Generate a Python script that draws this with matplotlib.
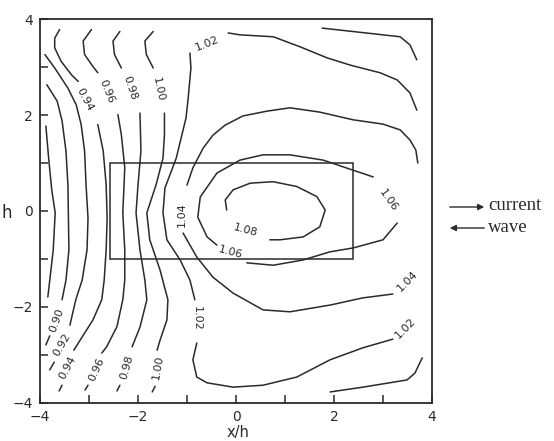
import matplotlib
matplotlib.use("Agg")
import matplotlib.pyplot as plt
from matplotlib.patches import Rectangle

# ---- contour lines (x/h, y/h) ----
# 0.88 (leftmost, unlabeled)
c088_x = [-3.88, -3.82, -3.76, -3.69, -3.73, -3.80, -3.84]
c088_y = [1.77, 1.06, 0.44, -0.04, -0.81, -1.44, -1.79]
# 0.90
c090_x = [-3.86, -3.65, -3.55, -3.47, -3.43, -3.41, -3.47, -3.55]
c090_y = [2.63, 2.29, 1.88, 1.25, 0.54, -0.81, -1.44, -1.85]
c090b_x = [-3.80, -3.88]
c090b_y = [-2.60, -2.79]
# 0.92
c092_x = [-3.90, -3.70, -3.43, -3.26, -3.16, -3.09, -3.06, -3.02, -3.04, -3.14, -3.27, -3.39]
c092_y = [3.26, 2.98, 2.56, 2.21, 1.80, 1.25, 0.54, -0.15, -0.81, -1.44, -1.85, -2.38]
c092b_x = [-3.71, -3.80]
c092b_y = [-3.15, -3.31]
# 0.94
c094a_x = [-3.60, -3.70, -3.70, -3.57, -3.36, -3.22]
c094a_y = [3.78, 3.60, 3.40, 3.12, 2.84, 2.70]
c094b_x = [-2.82, -2.71, -2.65, -2.63, -2.65, -2.69, -2.74, -2.92, -3.18, -3.31]
c094b_y = [1.80, 1.25, 0.55, -0.15, -0.81, -1.44, -1.85, -2.27, -2.69, -2.90]
c094c_x = [-3.55, -3.61]
c094c_y = [-3.63, -3.75]
# 0.96
c096a_x = [-2.95, -3.12, -3.09, -2.92, -2.82]
c096a_y = [3.78, 3.54, 3.26, 3.01, 2.88]
c096b_x = [-2.41, -2.34, -2.27, -2.31, -2.27, -2.27, -2.31, -2.43, -2.64, -2.74]
c096b_y = [2.01, 1.59, 0.90, -0.04, -0.81, -1.44, -1.85, -2.41, -2.83, -2.96]
c096c_x = [-3.02, -3.08]
c096c_y = [-3.63, -3.73]
# 0.98
c098a_x = [-2.37, -2.51, -2.48, -2.34]
c098a_y = [3.74, 3.54, 3.26, 2.98]
c098b_x = [-1.96, -1.94, -2.00, -2.04, -1.96, -1.86, -1.82, -1.96, -2.12]
c098b_y = [2.04, 1.25, 0.54, -0.04, -0.81, -1.44, -1.85, -2.42, -2.83]
c098c_x = [-2.37, -2.43]
c098c_y = [-3.63, -3.75]
# 1.00
c100a_x = [-1.69, -1.86, -1.83, -1.69]
c100a_y = [3.74, 3.54, 3.26, 2.98]
c100b_x = [-1.46, -1.46, -1.49, -1.63, -1.82, -1.76, -1.55, -1.39, -1.41, -1.55, -1.61]
c100b_y = [2.04, 1.59, 1.10, 0.55, -0.04, -0.60, -1.23, -1.85, -2.27, -2.69, -2.90]
c100c_x = [-1.65, -1.71]
c100c_y = [-3.65, -3.77]
c100d_x = [1.76, 2.47, 3.35, 3.55, 3.69]
c100d_y = [3.81, 3.73, 3.63, 3.46, 3.15]
c100e_x = [1.92, 2.59, 3.49, 3.65, 3.80]
c100e_y = [-3.77, -3.67, -3.52, -3.38, -3.06]
# 1.02
c102a_x = [-0.16, 0.08, 0.76, 1.31, 1.86, 2.33, 2.94, 3.29, 3.55, 3.69]
c102a_y = [3.71, 3.67, 3.63, 3.42, 3.19, 3.04, 2.88, 2.73, 2.46, 2.10]
c102b_x = [-0.94, -0.92, -0.98, -1.02, -1.22, -1.45, -1.49, -1.41, -1.14, -0.94, -0.84]
c102b_y = [3.29, 2.98, 2.31, 1.94, 1.10, 0.48, -0.04, -0.60, -1.02, -1.44, -1.85]
c102c_x = [-0.80, -0.88, -0.80, -0.59, -0.06, 0.55, 1.24, 1.92, 2.59, 3.20]
c102c_y = [-2.75, -3.10, -3.46, -3.58, -3.67, -3.63, -3.46, -3.10, -2.85, -2.67]
# 1.04
c104a_x = [-1.00, -0.88, -0.67, -0.47, -0.22, 0.14, 0.63, 1.10, 1.71, 2.39, 3.00, 3.35, 3.55, 3.67, 3.71]
c104a_y = [0.54, 0.90, 1.31, 1.58, 1.79, 1.98, 2.08, 2.15, 2.06, 1.90, 1.81, 1.69, 1.48, 1.27, 1.00]
c104b_x = [-1.08, -0.80, -0.47, -0.06, 0.55, 1.10, 1.92, 2.59, 3.20]
c104b_y = [-0.46, -0.96, -1.38, -1.71, -2.06, -2.10, -1.96, -1.81, -1.73]
# 1.06
c106a_x = [2.80, 2.39, 1.78, 1.10, 0.55, 0.08, -0.39, -0.73, -0.78, -0.59, -0.39]
c106a_y = [0.71, 0.85, 1.06, 1.17, 1.17, 1.06, 0.79, 0.29, -0.13, -0.54, -0.71]
c106b_x = [0.22, 0.76, 1.37, 1.92, 2.39, 3.00, 3.29]
c106b_y = [-1.08, -1.13, -1.02, -0.85, -0.77, -0.60, -0.25]
# 1.08
c108_x = [-0.19, -0.22, -0.06, 0.29, 0.76, 1.24, 1.65, 1.82, 1.71, 1.37, 0.90, 0.69]
c108_y = [0.02, 0.23, 0.44, 0.58, 0.61, 0.51, 0.30, 0.02, -0.33, -0.54, -0.60, -0.60]

# inline labels: text, x, y, rotation
label_text = ["0.94", "0.96", "0.98", "1.00", "1.02",
              "0.90", "0.92", "0.94", "0.96", "0.98", "1.00",
              "1.02", "1.04", "1.06", "1.08", "1.06", "1.04", "1.02"]
label_x = [-3.08, -2.63, -2.17, -1.59, -0.59,
           -3.65, -3.55, -3.43, -2.84, -2.22, -1.59,
           -0.80, -1.10, -0.12, 0.20, 3.10, 3.49, 3.45]
label_y = [2.32, 2.49, 2.56, 2.53, 3.49,
           -2.27, -2.79, -3.27, -3.31, -3.25, -3.25,
           -2.23, -0.08, -0.85, -0.40, 0.23, -1.46, -2.44]
label_rot = [-62, -68, -72, -78, 22,
             70, 60, 62, 66, 74, 80,
             -90, 90, -15, -15, -55, 45, 45]

rect_x = [-2.57, 2.39]
rect_y = [-1.0, 1.0]

xticks = [-4, -3, -2, -1, 0, 1, 2, 3, 4]
xticklabels = ["\u22124", "", "\u22122", "", "0", "", "2", "", "4"]
yticks = [-4, -3, -2, -1, 0, 1, 2, 3, 4]
yticklabels = ["\u22124", "", "\u22122", "", "0", "", "2", "", "4"]

segments = [
    (c088_x, c088_y), (c090_x, c090_y), (c090b_x, c090b_y),
    (c092_x, c092_y), (c092b_x, c092b_y),
    (c094a_x, c094a_y), (c094b_x, c094b_y), (c094c_x, c094c_y),
    (c096a_x, c096a_y), (c096b_x, c096b_y), (c096c_x, c096c_y),
    (c098a_x, c098a_y), (c098b_x, c098b_y), (c098c_x, c098c_y),
    (c100a_x, c100a_y), (c100b_x, c100b_y), (c100c_x, c100c_y),
    (c100d_x, c100d_y), (c100e_x, c100e_y),
    (c102a_x, c102a_y), (c102b_x, c102b_y), (c102c_x, c102c_y),
    (c104a_x, c104a_y), (c104b_x, c104b_y),
    (c106a_x, c106a_y), (c106b_x, c106b_y),
    (c108_x, c108_y),
]

ink = "#2a2a2a"
fig = plt.figure(figsize=(5.54, 4.41), dpi=100)
fig.patch.set_facecolor("white")
ax = fig.add_axes([0.0722, 0.0862, 0.7076, 0.8707])

for xs, ys in segments:
    ax.plot(xs, ys, color=ink, lw=1.1, solid_capstyle="round", solid_joinstyle="round")

for t, x, y, r in zip(label_text, label_x, label_y, label_rot):
    ax.text(x, y, t, rotation=r, rotation_mode="anchor", ha="center", va="center",
            fontsize=8, color=ink, family="DejaVu Sans")

ax.add_patch(Rectangle((rect_x[0], rect_y[0]), rect_x[1] - rect_x[0], rect_y[1] - rect_y[0],
                       fill=False, ec=ink, lw=1.1))

ax.set_xlim(-4, 4)
ax.set_ylim(-4, 4)
ax.set_xticks(xticks)
ax.set_xticklabels(xticklabels)
ax.set_yticks(yticks)
ax.set_yticklabels(yticklabels)
ax.tick_params(direction="in", length=6, width=1.1, color=ink, labelcolor=ink,
               labelsize=10, pad=5)
for s in ax.spines.values():
    s.set_color(ink)
    s.set_linewidth(1.3)

fig.text(7 / 554, 1 - 213 / 441, "h", ha="center", va="center", fontsize=12, color=ink)
fig.text(238 / 554, 1 - 433 / 441, "x/h", ha="center", va="center", fontsize=10.5, color=ink)

# flow direction annotations
ax.annotate("", xy=(487 / 554, 1 - 207 / 441), xytext=(447 / 554, 1 - 207 / 441),
            xycoords="figure fraction", textcoords="figure fraction",
            arrowprops=dict(arrowstyle="-|>", color=ink, lw=1.0, mutation_scale=9))
ax.annotate("", xy=(447 / 554, 1 - 228 / 441), xytext=(487 / 554, 1 - 228 / 441),
            xycoords="figure fraction", textcoords="figure fraction",
            arrowprops=dict(arrowstyle="-|>", color=ink, lw=1.0, mutation_scale=9))
fig.text(488 / 554, 1 - 206 / 441, "current", ha="left", va="center", fontsize=13.5,
         family="Liberation Serif", color=ink)
fig.text(488 / 554, 1 - 227 / 441, "wave", ha="left", va="center", fontsize=13.5,
         family="Liberation Serif", color=ink)

fig.savefig("out.png", dpi=100, facecolor="white")
